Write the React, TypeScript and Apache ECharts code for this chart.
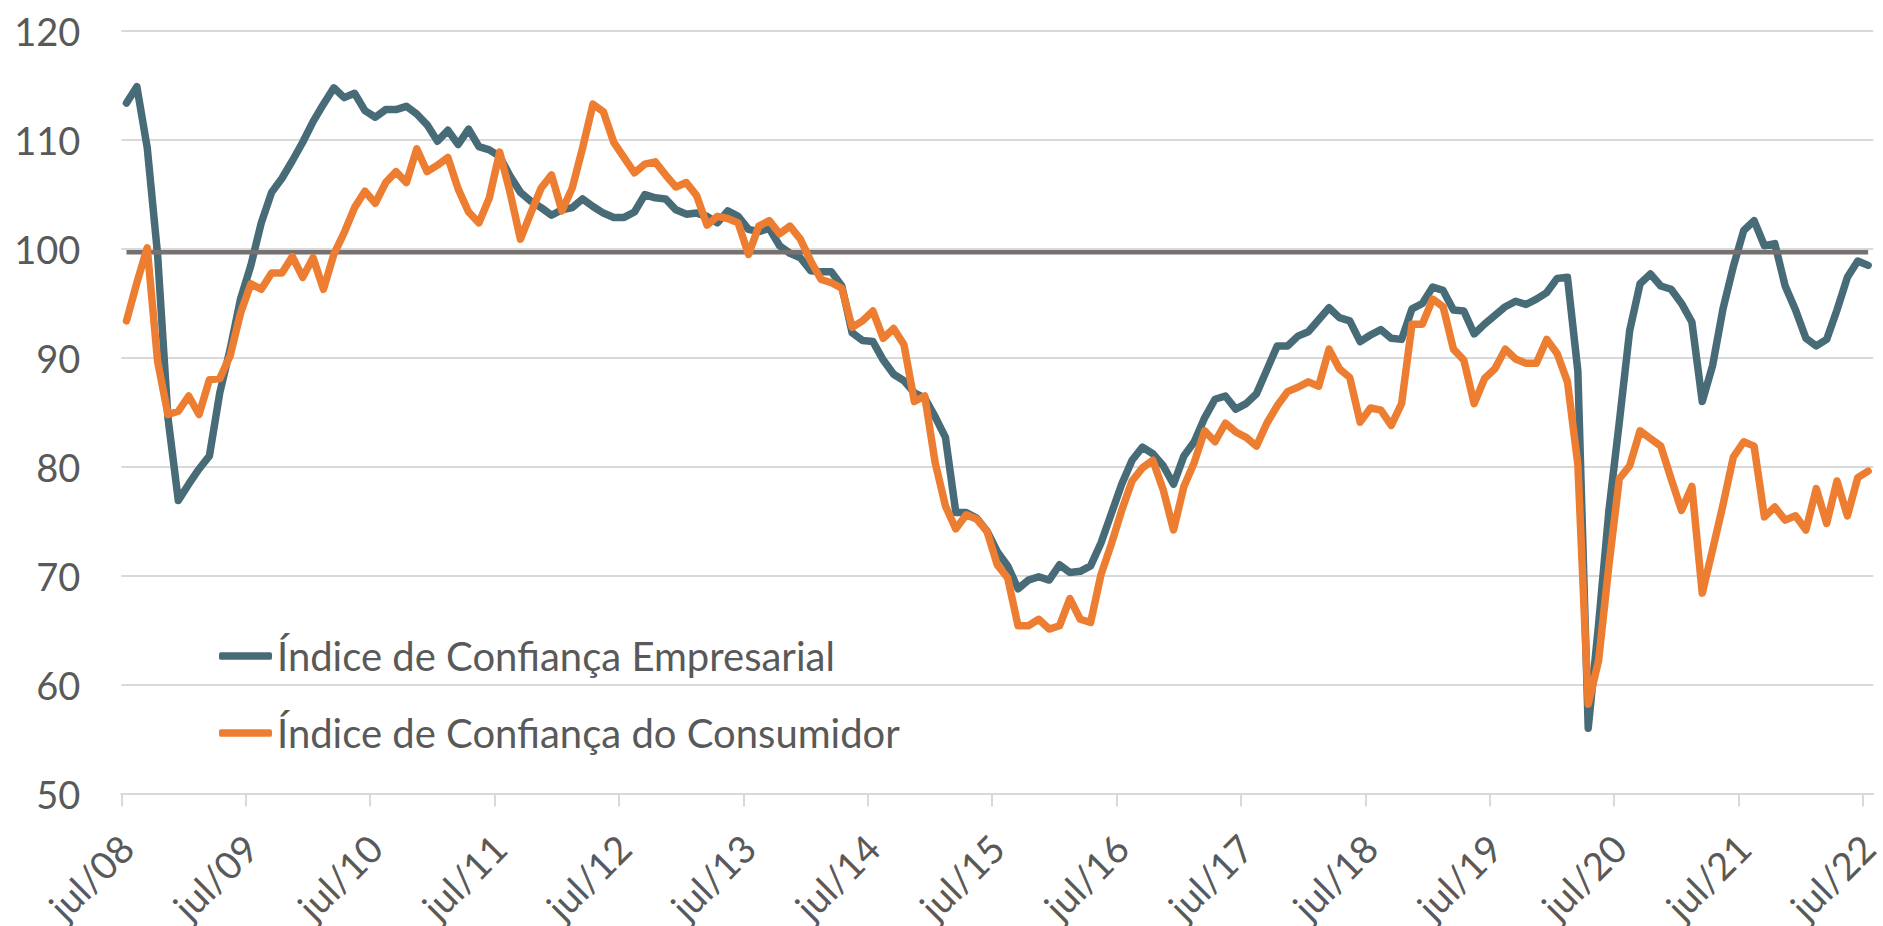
import React, { useEffect, useRef } from "react";
import * as echarts from "echarts";

// Monthly index values, jul/08 .. jul/22 (169 months)
const empresarial: number[] = [
  113.4, 114.9, 109.3, 99.5, 84.5, 76.9, 78.4, 79.8, 81.0, 86.8, 90.8, 95.4,
  98.5, 102.4, 105.2, 106.5, 108.1, 109.8, 111.7, 113.3, 114.8, 113.9, 114.3, 112.7,
  112.1, 112.8, 112.8, 113.1, 112.4, 111.4, 109.9, 110.9, 109.6, 111.0, 109.4, 109.1,
  108.5, 106.7, 105.2, 104.4, 103.8, 103.1, 103.6, 103.8, 104.6, 103.9, 103.3, 102.9,
  102.9, 103.4, 105.0, 104.7, 104.6, 103.6, 103.2, 103.3, 103.0, 102.4, 103.5, 103.0,
  101.8, 101.6, 101.9, 100.3, 99.6, 99.2, 98.0, 97.9, 97.9, 96.6, 92.3, 91.6,
  91.5, 89.8, 88.5, 87.9, 86.8, 86.3, 84.6, 82.7, 75.8, 75.8, 75.3, 74.1,
  72.2, 70.9, 68.8, 69.6, 69.9, 69.6, 71.0, 70.3, 70.4, 70.9, 73.0, 75.7,
  78.4, 80.6, 81.8, 81.2, 80.1, 78.4, 81.0, 82.3, 84.5, 86.2, 86.5, 85.3,
  85.8, 86.7, 88.9, 91.1, 91.1, 92.0, 92.4, 93.5, 94.6, 93.7, 93.4, 91.5,
  92.1, 92.6, 91.8, 91.7, 94.5, 95.0, 96.5, 96.2, 94.4, 94.3, 92.2, 93.1,
  93.9, 94.7, 95.2, 94.9, 95.4, 96.0, 97.3, 97.4, 88.8, 56.0, 65.5, 76.0,
  84.1, 92.5, 96.8, 97.7, 96.6, 96.3, 95.0, 93.3, 86.0, 89.3, 94.5, 98.4,
  101.7, 102.6, 100.3, 100.5, 96.6, 94.4, 91.8, 91.1, 91.7, 94.4, 97.4, 98.9,
  98.5,
];

const consumidor: number[] = [
  93.4, 96.9, 100.1, 89.7, 84.8, 85.1, 86.5, 84.8, 88.0, 88.1, 90.2, 94.1,
  96.8, 96.3, 97.8, 97.8, 99.3, 97.4, 99.2, 96.3, 99.5, 101.5, 103.8, 105.3,
  104.2, 106.1, 107.1, 106.1, 109.2, 107.1, 107.7, 108.4, 105.5, 103.4, 102.4, 104.7,
  108.9, 105.2, 100.9, 103.3, 105.6, 106.8, 103.5, 105.6, 109.3, 113.3, 112.6, 109.8,
  108.4, 107.0, 107.8, 108.0, 106.8, 105.7, 106.1, 104.9, 102.2, 103.0, 102.8, 102.4,
  99.5, 102.1, 102.6, 101.4, 102.1, 100.9, 98.9, 97.2, 96.9, 96.4, 92.8, 93.4,
  94.3, 91.8, 92.7, 91.2, 86.0, 86.5, 80.4, 76.4, 74.3, 75.6, 75.2, 74.1,
  71.0, 69.8, 65.4, 65.4, 66.0, 65.1, 65.4, 67.9, 66.0, 65.7, 70.1, 72.9,
  76.0, 78.7, 79.9, 80.6, 77.9, 74.2, 78.2, 80.4, 83.3, 82.3, 84.0, 83.2,
  82.7, 81.9, 84.0, 85.6, 86.9, 87.3, 87.8, 87.4, 90.8, 89.0, 88.2, 84.1,
  85.4, 85.2, 83.8, 85.8, 93.1, 93.1, 95.4, 94.7, 90.8, 89.8, 85.8, 88.1,
  89.0, 90.8, 89.9, 89.5, 89.5, 91.7, 90.4, 87.8, 80.2, 58.2, 62.2, 71.0,
  78.9, 80.1, 83.3, 82.6, 81.9, 78.9, 76.0, 78.2, 68.4, 72.4, 76.5, 80.9,
  82.3, 81.9, 75.4, 76.3, 75.1, 75.5, 74.2, 78.0, 74.8, 78.7, 75.5, 79.0,
  79.6,
];

const neutralLevel = 99.7;

const xTickLabels: string[] = [
  "jul/08", "jul/09", "jul/10", "jul/11", "jul/12", "jul/13", "jul/14", "jul/15",
  "jul/16", "jul/17", "jul/18", "jul/19", "jul/20", "jul/21", "jul/22",
];

const yTicks: number[] = [50, 60, 70, 80, 90, 100, 110, 120];

const seriesNames = ["Índice de Confiança Empresarial", "Índice de Confiança do Consumidor"];

export default function App() {
  const ref = useRef<HTMLDivElement>(null);

  useEffect(() => {
    if (!ref.current) return;
    const chart = echarts.init(ref.current, null, { renderer: "svg" });
    const nMonths = empresarial.length;
    const tickVals = xTickLabels.map((_, k) => k * 12);
    const labelVals = xTickLabels.map((_, k) => k * 12 + 0.5);
    const font = "Lato";
    const textColor = "#595959";

    chart.setOption({
      animation: false,
      backgroundColor: "#ffffff",
      grid: {
        left: 121.3,
        right: 9.7,
        top: 31.2,
        bottom: 132.5,
        containLabel: false,
        outerBoundsMode: "none",
      },
      legend: {
        orient: "vertical",
        left: 214,
        top: 631,
        itemWidth: 53,
        itemHeight: 7.5,
        itemGap: 37,
        icon: "roundRect",
        data: seriesNames,
        textStyle: {
          fontFamily: font,
          fontSize: 40,
          color: textColor,
          lineHeight: 40,
        },
      },
      xAxis: {
        type: "value",
        min: 0,
        max: nMonths,
        splitLine: { show: false },
        axisLine: { show: true, lineStyle: { color: "#D9D9D9", width: 2 } },
        axisTick: {
          show: true,
          length: 13,
          customValues: tickVals,
          lineStyle: { color: "#D9D9D9", width: 2 },
        },
        axisLabel: {
          customValues: labelVals,
          rotate: 45,
          margin: 48,
          fontFamily: font,
          fontSize: 38,
          color: textColor,
          formatter: (v: number) => xTickLabels[Math.round((v - 0.5) / 12)] ?? "",
        },
      },
      yAxis: {
        type: "value",
        min: yTicks[0],
        max: yTicks[yTicks.length - 1],
        interval: 10,
        axisLine: { show: false },
        axisTick: { show: false },
        splitLine: { show: true, lineStyle: { color: "#D9D9D9", width: 2 } },
        axisLabel: {
          margin: 41,
          fontFamily: font,
          fontSize: 38,
          color: textColor,
        },
      },
      series: [
        {
          name: seriesNames[0],
          type: "line",
          showSymbol: false,
          symbol: "none",
          z: 2,
          data: empresarial.map((v, i) => [i + 0.5, v]),
          lineStyle: { color: "#486B78", width: 7.5, cap: "round", join: "round" },
          itemStyle: { color: "#486B78" },
        },
        {
          name: "Neutro",
          type: "line",
          showSymbol: false,
          symbol: "none",
          z: 3,
          data: empresarial.map((_, i) => [i + 0.5, neutralLevel]),
          lineStyle: { color: "#767171", width: 4.5 },
          itemStyle: { color: "#767171" },
        },
        {
          name: seriesNames[1],
          type: "line",
          showSymbol: false,
          symbol: "none",
          z: 4,
          data: consumidor.map((v, i) => [i + 0.5, v]),
          lineStyle: { color: "#ED7D31", width: 7.5, cap: "round", join: "round" },
          itemStyle: { color: "#ED7D31" },
        },
      ],
    });

    return () => chart.dispose();
  }, []);

  return (
    <div
      ref={ref}
      style={{ position: "fixed", left: 0, top: 0, width: 1883, height: 926 }}
    />
  );
}
